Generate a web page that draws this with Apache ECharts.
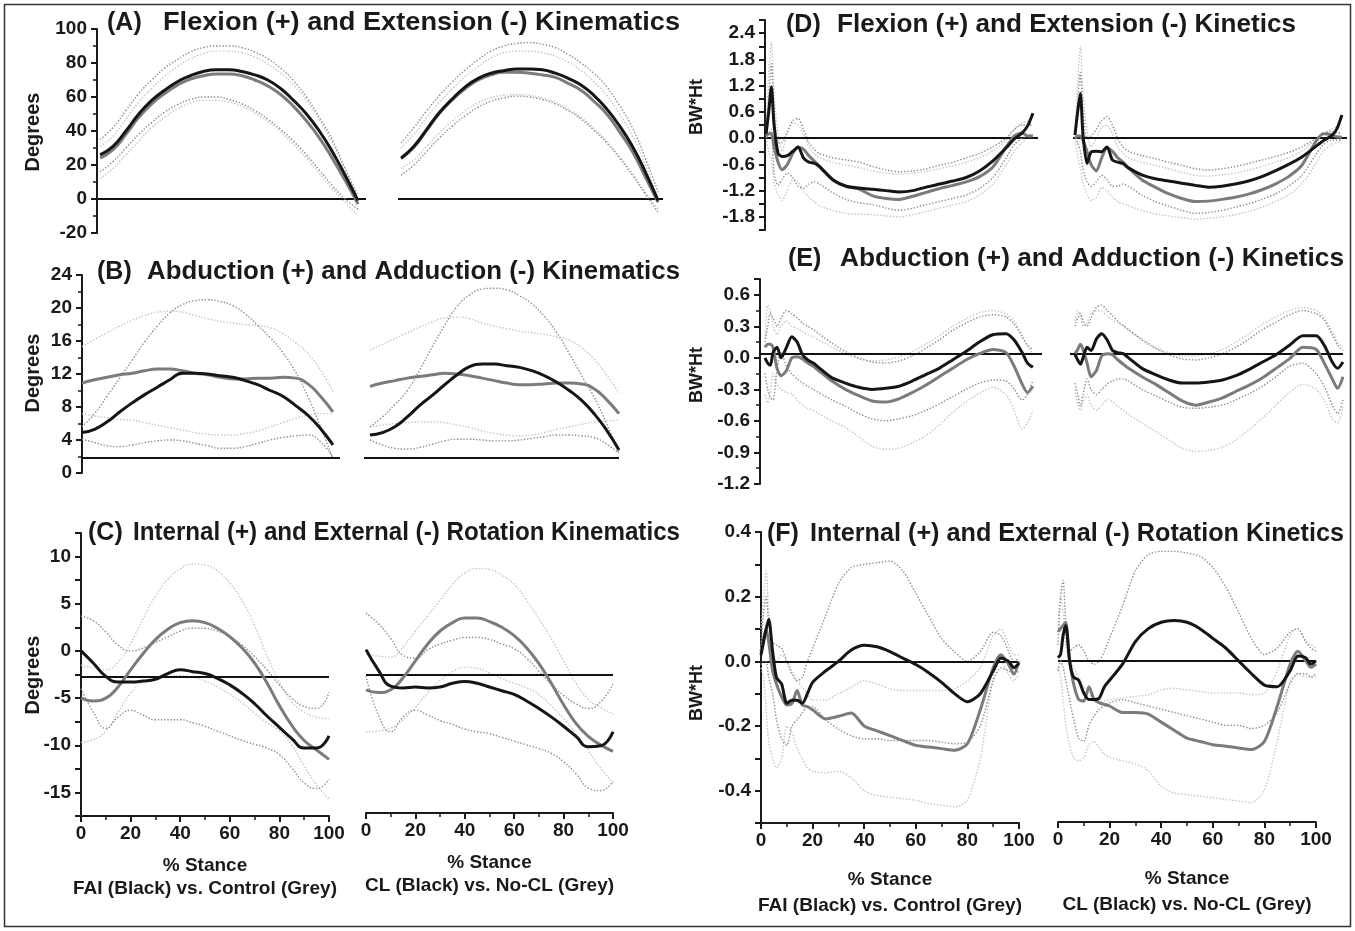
<!DOCTYPE html>
<html>
<head>
<meta charset="utf-8">
<title>Hip kinematics and kinetics</title>
<script src="https://cdn.jsdelivr.net/npm/echarts@6/dist/echarts.min.js"></script>
<style>
  html, body { margin: 0; padding: 0; background: #fff; }
  #chart { width: 1355px; height: 931px; }
</style>
</head>
<body>
<div id="chart"></div>
<script>
// % stance samples
const kinematicX = [0, 5, 10, 15, 20, 25, 30, 35, 40, 45, 50, 55, 60, 65, 70, 75, 80, 85, 90, 95, 100]
const kineticX = [0, 1, 2, 3, 4.5, 6, 8, 10, 12, 14, 16, 18, 20, 25, 30, 35, 40, 45, 50, 55, 60, 65, 70, 75, 80, 85, 90, 93, 96, 98, 100]

// reference (horizontal) line of each panel A..F
const refLineValues = [0, 1.8, -2.7, 0, 0.04, 0]

// (A) flexion / extension kinematics
const aFaiBlack = [26, 31, 40, 50, 58, 64, 69, 72.5, 75, 76, 76, 75, 73, 70, 65, 58, 50, 40, 28, 14, -1]
const aFaiGrey = [24, 29, 38, 48, 56, 62, 67, 70.5, 72.5, 73.5, 73.5, 72.5, 70, 66.5, 61.5, 54.5, 46, 36, 24, 11, -3]
const aFaiBlackUp = [35, 42, 52, 62, 70, 77, 82, 86.5, 89, 90, 90, 89, 86.5, 82.5, 77, 69.5, 60, 48, 35, 18, 2]
const aFaiBlackLo = [16, 22, 30, 38, 45, 51, 55.5, 58.5, 60, 60, 58.5, 56, 52, 47, 41, 34, 26, 17, 8, 0, -6]
const aFaiGreyUp = [31, 37, 47, 57, 65, 72, 78, 82.5, 85.5, 87, 87, 86, 83.5, 79.5, 74, 67, 58, 46.5, 33, 17, 0]
const aFaiGreyLo = [12, 18, 26, 34, 42, 48, 53, 56.5, 58, 58, 57, 54.5, 50.5, 45.5, 39.5, 32, 24, 15, 6, -2, -10]

const aClBlack = [24, 31, 41, 51, 59, 66, 71, 74, 75.5, 76.5, 76.5, 76, 74, 71, 67, 61, 53, 43, 31, 16, -1]
const aClGrey = [24, 30.5, 40.5, 50.5, 58.5, 65, 70, 73, 74.5, 74.5, 74, 73, 71.5, 68, 64, 57.5, 50, 39.5, 28, 13, -2]
const aClBlackUp = [33, 42, 52, 61, 69, 76, 82, 87, 90, 91.5, 92, 91, 89, 85, 80, 74, 66, 55, 42, 24, 4]
const aClBlackLo = [14, 20, 28, 36, 43, 49, 54, 57.5, 59.5, 60.5, 60, 58.5, 56, 52, 47, 40.5, 33, 24, 14, 3, -8]
const aClGreyUp = [30, 38, 48, 57, 65, 72, 78, 83, 86, 87, 87, 86, 84, 80.5, 75.5, 69, 61, 50, 37, 20, 0]
const aClGreyLo = [18, 23, 31, 39, 46, 52, 56.5, 59.5, 61, 61.5, 61, 59.5, 57, 53, 48, 41.5, 34, 25, 15, 4, -6]

// (B) abduction / adduction kinematics
const bFaiBlack = [4.9, 5.3, 6.2, 7.4, 8.5, 9.5, 10.4, 11.3, 12.1, 12.1, 12, 11.8, 11.6, 11.2, 10.7, 10, 9.3, 8.2, 7, 5.4, 3.4]
const bFaiGrey = [10.9, 11.3, 11.6, 11.9, 12.1, 12.4, 12.6, 12.6, 12.4, 12.1, 11.9, 11.6, 11.4, 11.4, 11.5, 11.5, 11.6, 11.5, 10.8, 9.3, 7.4]
const bFaiBlackUp = [5.6, 7.2, 9.3, 11.5, 13.7, 15.9, 17.8, 19.4, 20.4, 20.9, 21, 20.8, 20.3, 19.3, 17.9, 16.4, 14.6, 12.3, 9.3, 5.6, 1.8]
const bFaiBlackLo = [4.1, 3.7, 3.3, 3.2, 3.4, 3.7, 3.9, 4, 3.9, 3.6, 3.3, 3, 3, 3.2, 3.6, 4, 4.3, 4.5, 4.6, 3.8, 1.8]
const bFaiGreyUp = [15.3, 16.2, 17, 17.8, 18.5, 19.1, 19.5, 19.6, 19.5, 19.1, 18.7, 18.4, 18.2, 18, 17.9, 17.6, 16.9, 15.8, 14.5, 12.5, 9.9]
const bFaiGreyLo = [7.2, 6.9, 6.7, 6.5, 6.4, 6.1, 5.8, 5.5, 5.2, 4.9, 4.7, 4.6, 4.6, 4.8, 5.1, 5.6, 6.1, 6.6, 7, 7.2, 7.2]

const bClBlack = [4.6, 4.9, 5.6, 6.8, 8.2, 9.4, 10.7, 11.9, 12.9, 13.2, 13.2, 13, 12.8, 12.4, 11.8, 11, 10, 8.8, 7.2, 5.2, 2.8]
const bClGrey = [10.5, 10.9, 11.2, 11.5, 11.7, 11.9, 12.1, 12, 11.8, 11.5, 11.2, 10.9, 10.7, 10.7, 10.8, 10.9, 10.9, 10.8, 10.2, 8.9, 7.2]
const bClBlackUp = [5.6, 6.8, 8.3, 10, 12.5, 15.3, 17.9, 20.2, 21.6, 22.3, 22.4, 22.2, 21.5, 20.5, 19, 17, 14.5, 11.8, 9.2, 6, 2.4]
const bClBlackLo = [4, 3.4, 3, 2.9, 3.1, 3.5, 3.9, 4.1, 4.1, 4, 3.9, 3.9, 4, 4.2, 4.4, 4.6, 4.6, 4.5, 4.3, 3.5, 2.4]
const bClGreyUp = [14.9, 15.6, 16.3, 17, 17.7, 18.3, 18.8, 18.9, 18.7, 18.2, 17.8, 17.5, 17.2, 17, 16.8, 16.5, 16.1, 15.2, 13.8, 11.9, 9.7]
const bClGreyLo = [5.6, 5.8, 6, 6.1, 6.2, 6.2, 6.1, 5.8, 5.5, 5.1, 4.8, 4.6, 4.5, 4.6, 4.9, 5.3, 5.6, 5.9, 6.2, 6.3, 6.4]

// (C) internal / external rotation kinematics
const cFaiBlack = [0, -1.3, -2.7, -3.3, -3.3, -3.2, -3, -2.4, -2, -2.2, -2.4, -2.9, -3.6, -4.5, -5.6, -6.9, -8.1, -9.3, -10.3, -10.3, -9]
const cFaiGrey = [-5, -5.3, -5, -3.8, -2, -0.3, 1.2, 2.3, 3, 3.2, 3, 2.4, 1.5, 0.3, -1.3, -3.4, -5.8, -7.9, -9.5, -10.5, -11.5]
const cFaiBlackUp = [3.7, 3.2, 2, 0.6, 0, 0.3, 0.9, 1.5, 2.1, 2.4, 2.4, 2.1, 1.5, 0.6, -0.6, -2, -3.6, -5, -5.9, -6.1, -4.4]
const cFaiBlackLo = [-4, -6.5, -8.2, -7, -6.3, -6.8, -7.3, -7.3, -7.3, -7.6, -8, -8.5, -9, -9.5, -9.9, -10.3, -11, -12.4, -14, -14.6, -13.6]
const cFaiGreyUp = [-1.5, -1.8, -2, -1.2, 0.8, 3.4, 5.8, 7.6, 8.7, 9.2, 9.1, 8.5, 7.2, 5.3, 2.7, -0.5, -3.3, -5.4, -6.5, -7, -7.2]
const cFaiGreyLo = [-9.7, -9.4, -8.5, -6.5, -4.5, -3.3, -2.8, -2.6, -2.6, -2.8, -3.2, -3.8, -4.6, -5.5, -6.6, -7.6, -8.5, -10, -12.2, -14.2, -15.7]

const cClBlack = [0, -2.2, -3.9, -4.1, -4, -4.1, -4, -3.6, -3.4, -3.6, -4, -4.4, -4.8, -5.5, -6.3, -7.2, -8.2, -9.3, -10.4, -10.3, -8.8]
const cClGrey = [-4.3, -4.6, -4.3, -3, -1.2, 0.6, 2, 2.9, 3.4, 3.4, 3, 2.4, 1.5, 0.2, -1.5, -3.6, -5.9, -7.9, -9.3, -10.2, -10.9]
const cClBlackUp = [3.9, 2.8, 1.2, -0.6, -0.9, 0, 0.6, 1, 1.3, 1.3, 1.1, 0.6, 0.1, -0.9, -2.3, -3.7, -4.9, -5.8, -6.3, -5.6, -3.7]
const cClBlackLo = [-2.8, -7, -8.8, -7.2, -6.5, -7, -7.6, -8, -8.5, -8.8, -9, -9.4, -9.8, -10.2, -10.6, -11.1, -12, -13.3, -14.8, -15.1, -14.1]
const cClGreyUp = [-0.5, -0.7, -0.8, 0.3, 2, 3.6, 5.3, 7, 8.2, 8.7, 8.6, 8, 7, 5.3, 3.3, 1.2, -1.2, -3.6, -5.3, -6.2, -6.9]
const cClGreyLo = [-8.8, -8.7, -8.4, -7.5, -6.2, -4.6, -3.3, -2.4, -1.9, -2, -2.5, -3.1, -3.6, -4.1, -4.8, -6, -7.4, -9, -10.8, -12.7, -14.3]

// (D) flexion / extension kinetics
const dFaiBlack = [0.1, 0.6, 1.17, 0.3, -0.35, -0.42, -0.4, -0.3, -0.2, -0.45, -0.55, -0.57, -0.65, -0.95, -1.1, -1.14, -1.17, -1.2, -1.23, -1.2, -1.12, -1.05, -0.98, -0.9, -0.75, -0.52, -0.22, -0.02, 0.12, 0.28, 0.57]
const dFaiGrey = [0.05, 0.1, 0.1, -0.2, -0.55, -0.72, -0.6, -0.35, -0.2, -0.25, -0.4, -0.52, -0.64, -0.95, -1.1, -1.17, -1.32, -1.38, -1.4, -1.33, -1.24, -1.15, -1.08, -1, -0.88, -0.66, -0.2, 0.05, 0.12, 0.05, 0.05]
const dFaiBlackUp = [0.15, 0.9, 1.7, 0.6, -0.1, -0.1, 0.15, 0.4, 0.45, 0.2, -0.1, -0.25, -0.35, -0.45, -0.5, -0.55, -0.65, -0.73, -0.77, -0.75, -0.7, -0.62, -0.55, -0.45, -0.35, -0.2, 0, 0.2, 0.3, 0.3, 0.3]
const dFaiBlackLo = [0, 0.1, 0.2, -0.8, -1.08, -0.95, -0.8, -0.9, -1.1, -1.15, -1.05, -1, -1.05, -1.25, -1.4, -1.48, -1.52, -1.6, -1.65, -1.6, -1.52, -1.45, -1.38, -1.3, -1.15, -0.9, -0.45, -0.15, 0, 0.05, 0.1]
const dFaiGreyUp = [0.2, 1.5, 2.2, 1, 0.1, -0.3, 0.1, 0.35, 0.3, 0.1, -0.2, -0.35, -0.45, -0.55, -0.62, -0.68, -0.75, -0.8, -0.82, -0.8, -0.76, -0.7, -0.63, -0.55, -0.45, -0.3, -0.05, 0.2, 0.35, 0.38, 0.3]
const dFaiGreyLo = [0, -0.3, -0.5, -1, -1.3, -1.42, -1.2, -0.95, -1, -1.2, -1.35, -1.45, -1.55, -1.65, -1.72, -1.74, -1.75, -1.78, -1.8, -1.75, -1.68, -1.6, -1.53, -1.45, -1.3, -1.05, -0.6, -0.3, -0.1, 0, 0.05]

const dClBlack = [0.07, 0.6, 1.02, 0.07, -0.58, -0.32, -0.3, -0.31, -0.2, -0.5, -0.55, -0.58, -0.68, -0.84, -0.93, -0.98, -1.03, -1.08, -1.12, -1.1, -1.05, -0.98, -0.88, -0.75, -0.6, -0.43, -0.2, -0.06, 0.05, 0.2, 0.53]
const dClGrey = [0, 0.05, 0.05, -0.05, -0.3, -0.6, -0.75, -0.45, -0.22, -0.3, -0.45, -0.55, -0.68, -0.95, -1.12, -1.27, -1.38, -1.45, -1.44, -1.4, -1.35, -1.28, -1.18, -1.05, -0.88, -0.62, -0.1, 0.1, 0.08, 0.03, 0.02]
const dClBlackUp = [0.1, 0.8, 1.5, 0.6, 0, 0.05, 0.2, 0.4, 0.49, 0.3, 0, -0.2, -0.3, -0.4, -0.47, -0.55, -0.62, -0.7, -0.73, -0.7, -0.65, -0.58, -0.5, -0.42, -0.33, -0.2, -0.02, 0.1, 0.15, 0.13, 0.1]
const dClBlackLo = [0, -0.1, -0.3, -0.7, -1, -1.1, -1, -0.85, -0.95, -1.1, -1.1, -1.05, -1.1, -1.3, -1.45, -1.55, -1.65, -1.72, -1.7, -1.65, -1.58, -1.5, -1.4, -1.28, -1.1, -0.85, -0.4, -0.15, -0.05, -0.05, -0.05]
const dClGreyUp = [0.2, 1.3, 2.1, 1, 0.2, -0.2, 0, 0.25, 0.3, 0.1, -0.2, -0.35, -0.45, -0.55, -0.62, -0.7, -0.78, -0.85, -0.87, -0.84, -0.8, -0.73, -0.65, -0.55, -0.45, -0.3, -0.05, 0.1, 0.2, 0.25, 0.2]
const dClGreyLo = [0, -0.4, -0.7, -1, -1.3, -1.42, -1.35, -1.13, -1.2, -1.35, -1.45, -1.5, -1.55, -1.65, -1.73, -1.78, -1.82, -1.85, -1.83, -1.8, -1.75, -1.68, -1.58, -1.45, -1.3, -1.05, -0.6, -0.3, -0.15, -0.1, -0.1]

// (E) abduction / adduction kinetics
const eFaiBlack = [0, -0.05, -0.07, 0.05, 0.1, 0, 0.1, 0.2, 0.15, 0.03, -0.02, -0.05, -0.09, -0.19, -0.24, -0.28, -0.3, -0.29, -0.27, -0.22, -0.16, -0.1, -0.02, 0.06, 0.15, 0.22, 0.23, 0.17, 0.05, -0.05, -0.09]
const eFaiGrey = [0.1, 0.13, 0.13, 0.1, -0.1, -0.17, -0.12, 0, 0.01, -0.01, -0.05, -0.08, -0.12, -0.22, -0.3, -0.36, -0.41, -0.42, -0.39, -0.33, -0.26, -0.18, -0.1, -0.02, 0.04, 0.08, 0.05, -0.08, -0.25, -0.33, -0.27]
const eFaiBlackUp = [0.15, 0.3, 0.42, 0.38, 0.3, 0.38, 0.45, 0.42, 0.38, 0.33, 0.3, 0.27, 0.23, 0.14, 0.06, 0, -0.04, -0.05, -0.03, 0.02, 0.09, 0.17, 0.26, 0.33, 0.39, 0.41, 0.39, 0.32, 0.2, 0.12, 0.08]
const eFaiBlackLo = [-0.15, -0.3, -0.38, -0.4, -0.1, 0.05, -0.08, -0.15, -0.2, -0.24, -0.27, -0.3, -0.33, -0.4, -0.46, -0.53, -0.58, -0.6, -0.58, -0.55, -0.5, -0.44, -0.37, -0.3, -0.24, -0.21, -0.22, -0.3, -0.4, -0.35, -0.21]
const eFaiGreyUp = [0.2, 0.5, 0.45, 0.3, 0.22, 0.3, 0.35, 0.3, 0.28, 0.25, 0.22, 0.2, 0.17, 0.1, 0.04, -0.01, -0.03, -0.02, 0.01, 0.06, 0.13, 0.21, 0.3, 0.37, 0.43, 0.45, 0.42, 0.35, 0.22, 0.1, 0.05]
const eFaiGreyLo = [-0.35, -0.43, -0.3, -0.15, -0.25, -0.3, -0.33, -0.34, -0.4, -0.45, -0.48, -0.5, -0.53, -0.6, -0.66, -0.75, -0.84, -0.87, -0.86, -0.81, -0.74, -0.64, -0.52, -0.42, -0.34, -0.28, -0.35, -0.5, -0.68, -0.62, -0.5]

const eClBlack = [0.03, -0.02, -0.06, 0, 0.1, 0.07, 0.18, 0.23, 0.17, 0.07, 0.05, 0.04, 0, -0.1, -0.16, -0.21, -0.24, -0.24, -0.23, -0.21, -0.17, -0.11, -0.04, 0.03, 0.12, 0.21, 0.21, 0.12, -0.04, -0.1, -0.04]
const eClGrey = [0.04, 0.08, 0.13, 0.08, -0.05, -0.18, -0.12, 0.02, 0.04, 0.03, -0.02, -0.06, -0.1, -0.18, -0.25, -0.33, -0.41, -0.45, -0.42, -0.38, -0.32, -0.26, -0.19, -0.1, -0.01, 0.1, 0.08, -0.05, -0.2, -0.29, -0.18]
const eClBlackUp = [0.3, 0.38, 0.42, 0.35, 0.3, 0.38, 0.48, 0.5, 0.45, 0.4, 0.35, 0.31, 0.27, 0.17, 0.09, 0.03, -0.01, -0.02, 0, 0.04, 0.1, 0.18, 0.27, 0.34, 0.41, 0.45, 0.42, 0.36, 0.22, 0.12, 0.07]
const eClBlackLo = [-0.24, -0.35, -0.46, -0.35, -0.2, -0.3, -0.35, -0.3, -0.25, -0.22, -0.2, -0.2, -0.22, -0.3, -0.36, -0.42, -0.47, -0.48, -0.47, -0.45, -0.4, -0.34, -0.27, -0.18, -0.08, -0.05, -0.15, -0.27, -0.45, -0.53, -0.4]
const eClGreyUp = [0.35, 0.45, 0.4, 0.3, 0.33, 0.42, 0.45, 0.44, 0.4, 0.36, 0.33, 0.3, 0.26, 0.18, 0.1, 0.05, 0.02, 0.02, 0.04, 0.08, 0.15, 0.23, 0.32, 0.39, 0.45, 0.48, 0.45, 0.38, 0.25, 0.15, 0.1]
const eClGreyLo = [-0.3, -0.45, -0.5, -0.42, -0.35, -0.45, -0.5, -0.45, -0.4, -0.42, -0.46, -0.5, -0.54, -0.62, -0.7, -0.78, -0.86, -0.89, -0.88, -0.85, -0.78, -0.68, -0.57, -0.45, -0.33, -0.25, -0.3, -0.4, -0.58, -0.62, -0.46]

// (F) internal / external rotation kinetics
const fFaiBlack = [0.02, 0.06, 0.1, 0.13, 0.03, -0.05, -0.07, -0.13, -0.12, -0.12, -0.13, -0.1, -0.065, -0.03, 0, 0.035, 0.05, 0.045, 0.03, 0.01, -0.01, -0.035, -0.065, -0.1, -0.125, -0.1, -0.03, 0.01, 0, -0.02, -0.005]
const fFaiGrey = [0.03, 0.07, 0.1, 0.06, -0.03, -0.07, -0.11, -0.135, -0.13, -0.09, -0.135, -0.14, -0.15, -0.178, -0.17, -0.16, -0.2, -0.215, -0.23, -0.245, -0.26, -0.265, -0.27, -0.275, -0.255, -0.15, -0.02, 0.02, -0.01, -0.04, 0]
const fFaiBlackUp = [0.05, 0.15, 0.2, 0.12, 0.06, 0.05, 0.04, 0, -0.04, -0.06, -0.05, 0, 0.04, 0.14, 0.24, 0.29, 0.3, 0.305, 0.31, 0.28, 0.21, 0.14, 0.07, 0.03, 0, 0.03, 0.09, 0.08, 0.03, 0, 0.01]
const fFaiBlackLo = [-0.01, 0, 0, -0.05, -0.1, -0.18, -0.24, -0.26, -0.2, -0.18, -0.16, -0.14, -0.14, -0.18, -0.21, -0.23, -0.24, -0.24, -0.245, -0.245, -0.245, -0.245, -0.25, -0.255, -0.25, -0.2, -0.06, -0.02, -0.03, -0.04, -0.03]
const fFaiGreyUp = [0.1, 0.2, 0.28, 0.15, 0.04, 0, 0.02, 0, -0.03, -0.06, -0.08, -0.1, -0.12, -0.12, -0.1, -0.08, -0.06, -0.07, -0.085, -0.09, -0.09, -0.09, -0.09, -0.085, -0.06, -0.02, 0.08, 0.1, 0.05, 0.02, 0.02]
const fFaiGreyLo = [-0.02, -0.05, -0.15, -0.25, -0.3, -0.33, -0.3, -0.2, -0.22, -0.27, -0.3, -0.33, -0.34, -0.345, -0.34, -0.36, -0.4, -0.415, -0.42, -0.425, -0.43, -0.44, -0.445, -0.45, -0.43, -0.3, -0.05, 0, -0.04, -0.06, -0.04]

const fClBlack = [0.01, 0.02, 0.08, 0.11, 0, -0.05, -0.06, -0.1, -0.12, -0.12, -0.115, -0.08, -0.06, -0.01, 0.06, 0.1, 0.12, 0.125, 0.12, 0.1, 0.07, 0.04, 0, -0.04, -0.075, -0.08, -0.03, 0.015, 0.01, -0.01, 0]
const fClGrey = [0.09, 0.1, 0.11, 0.12, 0, -0.07, -0.12, -0.125, -0.08, -0.12, -0.13, -0.135, -0.14, -0.16, -0.16, -0.165, -0.19, -0.215, -0.24, -0.25, -0.26, -0.265, -0.27, -0.275, -0.25, -0.14, -0.01, 0.03, 0, -0.02, -0.01]
const fClBlackUp = [0.05, 0.2, 0.25, 0.12, 0.03, 0.04, 0.05, 0.03, 0, -0.01, 0, 0.03, 0.07, 0.17, 0.28, 0.33, 0.34, 0.34, 0.335, 0.325, 0.29, 0.23, 0.15, 0.07, 0.02, 0.04, 0.09, 0.1, 0.06, 0.04, 0.03]
const fClBlackLo = [-0.03, 0, -0.02, -0.06, -0.12, -0.18, -0.24, -0.25, -0.2, -0.17, -0.15, -0.14, -0.13, -0.12, -0.13, -0.14, -0.15, -0.16, -0.17, -0.18, -0.19, -0.2, -0.2, -0.21, -0.2, -0.16, -0.07, -0.04, -0.04, -0.05, -0.04]
const fClGreyUp = [0.1, 0.2, 0.15, 0.05, 0, -0.02, -0.05, -0.08, -0.1, -0.12, -0.125, -0.125, -0.12, -0.115, -0.11, -0.105, -0.09, -0.085, -0.09, -0.095, -0.1, -0.1, -0.1, -0.105, -0.1, -0.03, 0.08, 0.1, 0.06, 0.05, 0.04]
const fClGreyLo = [-0.02, -0.05, -0.12, -0.2, -0.26, -0.3, -0.31, -0.3, -0.26, -0.25, -0.27, -0.29, -0.3, -0.31, -0.32, -0.34, -0.39, -0.41, -0.415, -0.42, -0.425, -0.43, -0.435, -0.44, -0.4, -0.25, -0.06, -0.04, -0.05, -0.05, -0.05]

const FONT = '"Liberation Sans", Arial, sans-serif'
const INK = '#1a1a1a'

const near = (a, b) => Math.abs(a - b) < 1e-6

// y tick label rules per panel
const yLabel = {
  A: v => String(v),
  B: v => String(v),
  C: v => (near(v % 5, 0) && v >= -15 && v <= 10 ? String(v) : ''),
  D: v => {
    const r = Math.round(v * 10) / 10
    return near(r / 0.6, Math.round(r / 0.6)) && r >= -1.8 && r <= 2.4 ? r.toFixed(1) : ''
  },
  E: v => {
    const r = Math.round(v * 100) / 100
    return r > 0.61 ? '' : r.toFixed(1)
  },
  F: v => {
    const r = Math.round(v * 10)
    return r % 2 === 0 ? (r / 10).toFixed(1) : ''
  }
}

// one entry per sub-plot; left = FAI vs Control, right = CL vs No-CL
const plots = [
  { p: 'A', ref: 0, grid: { left: 97, top: 29, width: 269, height: 204 }, x: [-1.2, 103.1], y: [-20, 100, 20], minor: true, showY: true, xs: kinematicX, smooth: 0.5,
    lines: [aFaiGreyUp, aFaiGreyLo, aFaiBlackUp, aFaiBlackLo, aFaiGrey, aFaiBlack] },
  { p: 'A', ref: 0, grid: { left: 398, top: 29, width: 265, height: 204 }, x: [-1.2, 101.9], y: [-20, 100, 20], xs: kinematicX, smooth: 0.5,
    lines: [aClGreyUp, aClGreyLo, aClBlackUp, aClBlackLo, aClGrey, aClBlack] },
  { p: 'B', ref: 1, grid: { left: 82, top: 275, width: 258, height: 198 }, x: [0, 102.8], y: [0, 24, 4], minor: true, showY: true, xs: kinematicX, smooth: 0.5,
    lines: [bFaiGreyUp, bFaiGreyLo, bFaiBlackUp, bFaiBlackLo, bFaiGrey, bFaiBlack] },
  { p: 'B', ref: 1, grid: { left: 364, top: 275, width: 255, height: 198 }, x: [-2.4, 100], y: [0, 24, 4], xs: kinematicX, smooth: 0.5,
    lines: [bClGreyUp, bClGreyLo, bClBlackUp, bClBlackLo, bClGrey, bClBlack] },
  { p: 'C', ref: 2, grid: { left: 81, top: 533, width: 248, height: 283 }, x: [0, 100], y: [-17.5, 12.5, 2.5], showY: true, showX: true, xs: kinematicX, smooth: 0.5,
    xName: '% Stance\nFAI (Black) vs. Control (Grey)', nameGap: 38, lineHeight: 23,
    lines: [cFaiGreyUp, cFaiGreyLo, cFaiBlackUp, cFaiBlackLo, cFaiGrey, cFaiBlack] },
  { p: 'C', ref: 2, grid: { left: 366, top: 533, width: 247, height: 280 }, x: [0, 100], y: [-17.5, 12.5, 2.5], showX: true, xs: kinematicX, smooth: 0.5,
    xName: '% Stance\nCL (Black) vs. No-CL (Grey)', nameGap: 38, lineHeight: 23,
    lines: [cClGreyUp, cClGreyLo, cClBlackUp, cClBlackLo, cClGrey, cClBlack] },
  { p: 'D', ref: 3, grid: { left: 765, top: 20, width: 273, height: 210 }, x: [-0.4, 101.9], y: [-2.1, 2.7, 0.3], showY: true, xs: kineticX, smooth: 0.25,
    lines: [dFaiGreyUp, dFaiGreyLo, dFaiBlackUp, dFaiBlackLo, dFaiGrey, dFaiBlack] },
  { p: 'D', ref: 3, grid: { left: 1073, top: 20, width: 274, height: 210 }, x: [-0.75, 101.9], y: [-2.1, 2.7, 0.3], xs: kineticX, smooth: 0.25,
    lines: [dClGreyUp, dClGreyLo, dClBlackUp, dClBlackLo, dClGrey, dClBlack] },
  { p: 'E', ref: 4, grid: { left: 760, top: 279, width: 282, height: 205 }, x: [-1.87, 103.4], y: [-1.2, 0.75, 0.3], minor: true, showY: true, xs: kineticX, smooth: 0.25,
    lines: [eFaiGreyUp, eFaiGreyLo, eFaiBlackUp, eFaiBlackLo, eFaiGrey, eFaiBlack] },
  { p: 'E', ref: 4, grid: { left: 1070, top: 279, width: 273, height: 205 }, x: [-1.87, 100], y: [-1.2, 0.75, 0.3], xs: kineticX, smooth: 0.25,
    lines: [eClGreyUp, eClGreyLo, eClBlackUp, eClBlackLo, eClGrey, eClBlack] },
  { p: 'F', ref: 5, grid: { left: 761, top: 532, width: 258, height: 291 }, x: [0, 100], y: [-0.5, 0.4, 0.1], showY: true, showX: true, xs: kineticX, smooth: 0.25,
    xName: '% Stance\nFAI (Black) vs. Control (Grey)', nameGap: 44, lineHeight: 26,
    lines: [fFaiGreyUp, fFaiGreyLo, fFaiBlackUp, fFaiBlackLo, fFaiGrey, fFaiBlack] },
  { p: 'F', ref: 5, grid: { left: 1058, top: 532, width: 258, height: 290 }, x: [0, 100], y: [-0.5, 0.4, 0.1], showX: true, xs: kineticX, smooth: 0.25,
    xName: '% Stance\nCL (Black) vs. No-CL (Grey)', nameGap: 44, lineHeight: 26,
    lines: [fClGreyUp, fClGreyLo, fClBlackUp, fClBlackLo, fClGrey, fClBlack] }
]

// grey SD, black SD, grey mean, black mean
const lineStyles = [
  { color: '#c4c4c4', width: 1.4, type: [1.4, 1.8] },
  { color: '#c4c4c4', width: 1.4, type: [1.4, 1.8] },
  { color: '#8c8c8c', width: 1.4, type: [1.4, 1.8] },
  { color: '#8c8c8c', width: 1.4, type: [1.4, 1.8] },
  { color: '#7b7b7b', width: 3 },
  { color: '#151515', width: 3 }
]

const tickText = { fontSize: 19, fontWeight: 'bold', color: INK, fontFamily: FONT }

const grids = []
const xAxes = []
const yAxes = []
const series = []

plots.forEach((pl, gi) => {
  grids.push(Object.assign({ containLabel: false }, pl.grid))

  xAxes.push({
    gridIndex: gi,
    type: 'value',
    show: !!pl.showX,
    min: pl.x[0],
    max: pl.x[1],
    interval: 20,
    axisLine: { onZero: false, lineStyle: { color: INK, width: 2 } },
    axisTick: { length: 6, lineStyle: { color: INK, width: 2 } },
    minorTick: { show: true, splitNumber: 2, length: 4, lineStyle: { color: INK, width: 1.5 } },
    axisLabel: Object.assign({ margin: 8 }, tickText),
    splitLine: { show: false },
    name: pl.xName || '',
    nameLocation: 'middle',
    nameGap: pl.nameGap || 30,
    nameTextStyle: { fontSize: 19, fontWeight: 'bold', color: INK, fontFamily: FONT, lineHeight: pl.lineHeight || 22 }
  })

  yAxes.push({
    gridIndex: gi,
    type: 'value',
    show: !!pl.showY,
    min: pl.y[0],
    max: pl.y[1],
    interval: pl.y[2],
    axisLine: { onZero: false, lineStyle: { color: INK, width: 2 } },
    axisTick: { length: 6, lineStyle: { color: INK, width: 2 } },
    minorTick: { show: !!pl.minor, splitNumber: 2, length: 4, lineStyle: { color: INK, width: 1.5 } },
    axisLabel: Object.assign({ margin: 10, formatter: yLabel[pl.p] }, tickText),
    splitLine: { show: false }
  })

  pl.lines.forEach((ys, li) => {
    const s = {
      type: 'line',
      xAxisIndex: gi,
      yAxisIndex: gi,
      data: pl.xs.map((x, i) => [x, ys[i]]),
      showSymbol: false,
      symbol: 'none',
      smooth: pl.smooth,
      silent: true,
      lineStyle: lineStyles[li],
      z: 2 + li
    }
    if (li === lineStyles.length - 1) {
      s.markLine = {
        silent: true,
        symbol: ['none', 'none'],
        label: { show: false },
        lineStyle: { color: '#111', width: 2, type: 'solid' },
        data: [{ yAxis: refLineValues[pl.ref] }]
      }
    }
    series.push(s)
  })
})

// panel letter, its x, heading text, heading start x, heading end x, centre y
const titles = [
  ['(A)', 107, 'Flexion (+) and Extension (-) Kinematics', 163, 680, 23],
  ['(B)', 97, 'Abduction (+) and Adduction (-) Kinematics', 147, 680, 272],
  ['(C)', 88, 'Internal (+) and External (-) Rotation Kinematics', 133, 680, 533],
  ['(D)', 786, 'Flexion (+) and Extension (-) Kinetics', 837, 1296, 25],
  ['(E)', 788, 'Abduction (+) and Adduction (-) Kinetics', 840, 1344, 259],
  ['(F)', 767, 'Internal (+) and External (-) Rotation Kinetics', 810, 1344, 534]
]
const axisNames = [
  ['Degrees', 33, 132, 20],
  ['Degrees', 33, 373, 20],
  ['Degrees', 33, 675, 20],
  ['BW*Ht', 697, 107, 18],
  ['BW*Ht', 697, 375, 18],
  ['BW*Ht', 697, 693, 18]
]

const titleFont = 'bold 25px ' + FONT
const measure = document.createElement('canvas').getContext('2d')
measure.font = titleFont

const graphic = [
  {
    type: 'rect',
    shape: { x: 4.5, y: 4.5, width: 1346, height: 922 },
    style: { fill: 'none', stroke: '#333', lineWidth: 1.5 },
    silent: true
  }
]
titles.forEach(([tag, tagX, text, x0, x1, y]) => {
  const w = measure.measureText(text).width || 1
  graphic.push({
    type: 'text', x: tagX, y, silent: true,
    style: { text: tag, font: titleFont, fill: INK, align: 'left', verticalAlign: 'middle' }
  })
  graphic.push({
    type: 'text', x: x0, y, scaleX: (x1 - x0) / w, silent: true,
    style: { text, font: titleFont, fill: INK, align: 'left', verticalAlign: 'middle' }
  })
})
axisNames.forEach(([text, x, y, size]) => {
  graphic.push({
    type: 'text',
    x, y,
    rotation: Math.PI / 2,
    silent: true,
    style: { text, font: 'bold ' + size + 'px ' + FONT, fill: INK, align: 'center', verticalAlign: 'middle' }
  })
})

const chart = echarts.init(document.getElementById('chart'))
chart.setOption({
  animation: false,
  backgroundColor: '#fff',
  grid: grids,
  xAxis: xAxes,
  yAxis: yAxes,
  series,
  graphic
})
</script>
</body>
</html>
